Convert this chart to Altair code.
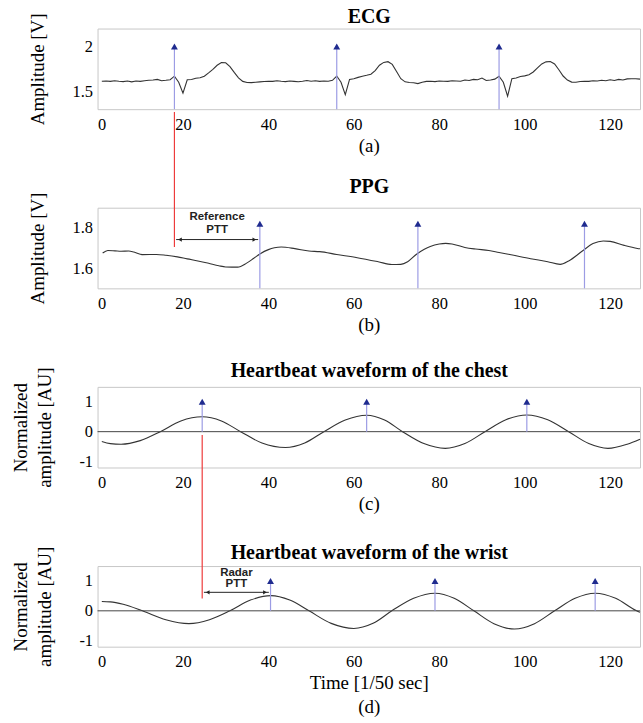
import altair as alt
import pandas as pd

# ---------------- data ----------------
ECG_T = list(range(1, 128))
ECG_V = [1.612, 1.615, 1.610, 1.618, 1.612, 1.608, 1.615, 1.605, 1.614, 1.610,
         1.618, 1.622, 1.625, 1.632, 1.618, 1.622, 1.628, 1.668, 1.600, 1.478,
         1.628, 1.632, 1.645, 1.650, 1.668, 1.705, 1.745, 1.790, 1.820, 1.818,
         1.775, 1.710, 1.650, 1.610, 1.598, 1.596, 1.600, 1.605, 1.608, 1.612,
         1.610, 1.618, 1.612, 1.608, 1.615, 1.610, 1.606, 1.612, 1.620, 1.612,
         1.618, 1.610, 1.614, 1.612, 1.622, 1.670, 1.600, 1.462, 1.632, 1.640,
         1.655, 1.668, 1.678, 1.690, 1.730, 1.790, 1.822, 1.830, 1.800, 1.720,
         1.640, 1.605, 1.598, 1.595, 1.585, 1.600, 1.610, 1.612, 1.608, 1.615,
         1.612, 1.610, 1.618, 1.615, 1.612, 1.625, 1.620, 1.632, 1.628, 1.648,
         1.620, 1.625, 1.635, 1.668, 1.600, 1.444, 1.640, 1.648, 1.665, 1.672,
         1.685, 1.715, 1.760, 1.805, 1.828, 1.832, 1.805, 1.740, 1.670, 1.625,
         1.602, 1.600, 1.608, 1.612, 1.610, 1.618, 1.615, 1.622, 1.618, 1.628,
         1.620, 1.632, 1.625, 1.638, 1.640, 1.640, 1.635]

PPG_T = [1.2, 2.4, 4.1, 5.5, 7.3, 8.5, 10.5, 13.8, 16, 18.7, 21, 23.5, 26, 28.4,
         30, 32.8, 34.9, 36.5, 38.1, 40, 41.4, 43, 46.2, 49.5, 52, 56, 60.8,
         65.7, 68.9, 71, 72.6, 74.6, 76.5, 77.9, 80, 81.5, 83, 86, 88.5, 91.6,
         94, 96.5, 101.4, 105.4, 108.3, 110.3, 113.5, 116, 118.4, 120, 123.3,
         126.4, 127]
PPG_V = [1.675, 1.688, 1.686, 1.684, 1.685, 1.680, 1.667, 1.668, 1.664, 1.656,
         1.646, 1.636, 1.624, 1.612, 1.606, 1.605, 1.625, 1.648, 1.672, 1.692,
         1.701, 1.705, 1.697, 1.685, 1.682, 1.668, 1.652, 1.632, 1.618, 1.619,
         1.632, 1.668, 1.694, 1.708, 1.720, 1.723, 1.720, 1.703, 1.695, 1.688,
         1.678, 1.668, 1.647, 1.632, 1.619, 1.636, 1.685, 1.722, 1.735, 1.733,
         1.713, 1.698, 1.696]

CHEST_T = [1, 3, 5.5, 10, 14.7, 19.5, 24.5, 29, 33.5, 38.5, 44, 48.5, 53, 58, 63,
           67.2, 71.4, 76.4, 81.4, 86, 90.7, 95.6, 100.5, 105.4, 110.3, 115,
           119.5, 124, 127]
CHEST_V = [-0.33, -0.40, -0.42, -0.30, 0.0, 0.36, 0.50, 0.36, 0.0, -0.38, -0.53,
           -0.38, 0.0, 0.39, 0.55, 0.39, 0.0, -0.40, -0.56, -0.40, 0.0, 0.40,
           0.56, 0.40, 0.0, -0.40, -0.56, -0.42, -0.25]

WRIST_T = [1, 3, 6, 10.5, 16, 21.4, 26.2, 31, 35.8, 40.6, 45, 49.5, 54.7, 60,
           64.5, 68.9, 74, 79, 83.5, 88.1, 92.8, 97.6, 102.3, 107, 111.8, 116.5,
           121.3, 126.2, 127]
WRIST_V = [0.31, 0.30, 0.22, 0.0, -0.30, -0.43, -0.30, 0.0, 0.36, 0.51, 0.36,
           0.0, -0.42, -0.59, -0.42, 0.0, 0.42, 0.59, 0.42, 0.0, -0.43, -0.61,
           -0.43, 0.0, 0.42, 0.59, 0.42, 0.0, -0.05]

ECG_PEAKS = [18, 56, 94]
PPG_PEAKS = [38, 75, 114]
CHEST_PEAKS = [24.5, 63, 100.5]
WRIST_PEAKS = [40.5, 79, 116.5]

XTICKS = [0, 20, 40, 60, 80, 100, 120]

# ---------------- style ----------------
SERIF = "Liberation Serif"
SANS = "Liberation Sans"
LINE = "#333333"
STEM = "#9c9ce4"
TRI = "#1f2b8f"
RED = "#ee3b3b"
W, H = 545, 81
XDOM = [0, 127]


def make_panel(t, v, peaks, stem_lo, stem_hi, ydom, yvals, yfmt, ytitle, title,
               toff, xtitle, interp, zero_line=False, extras=()):
    xaxis = alt.Axis(values=XTICKS, format="d", title=xtitle, labelPadding=7,
                     titlePadding=4, tickSize=0, titleLineHeight=24)
    topaxis = alt.Axis(orient="top", values=XTICKS, labels=False, ticks=False,
                       domain=False, title=title, titleFontSize=20,
                       titleFontWeight="bold", titlePadding=toff)
    yaxis = alt.Axis(values=yvals, title=ytitle, labelPadding=5, tickSize=0,
                     titlePadding=25, titleLineHeight=24, labelExpr=yfmt)
    xscale = alt.Scale(domain=XDOM, nice=False, zero=False)

    def X(axis=None):
        return alt.X("t:Q", scale=xscale, axis=axis)

    def Y(field="v:Q"):
        return alt.Y(field, scale=alt.Scale(domain=ydom, nice=False, zero=False),
                     axis=yaxis)

    layers = []
    ldf = pd.DataFrame({"t": t, "v": v})
    layers.append(alt.Chart(ldf).mark_line(color=LINE, strokeWidth=1.1,
                                           interpolate=interp)
                  .encode(x=X(xaxis), y=Y()))
    if zero_line:
        zdf = pd.DataFrame({"v": [0.0]})
        layers.append(alt.Chart(zdf).mark_rule(color="#444444", strokeWidth=1)
                      .encode(y=Y()))
    sdf = pd.DataFrame({"t": peaks, "v": [stem_lo] * len(peaks),
                        "v2": [stem_hi] * len(peaks)})
    layers.append(alt.Chart(sdf).mark_rule(color=STEM, strokeWidth=1.2)
                  .encode(x=X(), y=Y(), y2="v2:Q"))
    layers.append(alt.Chart(sdf).mark_point(shape="triangle-up", filled=True,
                                            size=48, color=TRI, opacity=1)
                  .encode(x=X(topaxis), y=Y("v2:Q")))
    for kind, args in extras:
        if kind == "red":
            x, lo, hi = args
            df = pd.DataFrame({"t": [x], "v": [lo], "v2": [hi]})
            layers.append(alt.Chart(df).mark_rule(color=RED, strokeWidth=1.2,
                                                  clip=False)
                          .encode(x=X(), y=Y(), y2="v2:Q"))
        elif kind == "arrow":
            x0, x1, y, h0, h1 = args
            df = pd.DataFrame({"t": [x0], "t2": [x1], "v": [y]})
            layers.append(alt.Chart(df).mark_rule(color="#222222", strokeWidth=1)
                          .encode(x=X(), x2="t2:Q", y=Y()))
            hdf = pd.DataFrame({"t": [h0, h1], "v": [y, y],
                                "s": ["triangle-left", "triangle-right"]})
            layers.append(alt.Chart(hdf).mark_point(filled=True, size=18,
                                                    color="#222222", opacity=1)
                          .encode(x=X(), y=Y(),
                                  shape=alt.Shape("s:N", scale=None)))
        elif kind == "text":
            x, ypos, texts = args
            df = pd.DataFrame({"t": [x] * len(texts), "v": ypos, "txt": texts})
            layers.append(alt.Chart(df).mark_text(font=SANS, fontWeight="bold",
                                                  fontSize=11.5, color="#222222")
                          .encode(x=X(), y=Y(), text="txt:N"))
    return alt.layer(*layers).resolve_axis(x="independent").properties(
        width=W, height=H)


pa = make_panel(ECG_T, ECG_V, ECG_PEAKS, 1.3, 2.0, [1.3, 2.2], [1.5, 2],
                "datum.value == 2 ? '2' : '1.5'", "Amplitude [V]", "ECG", 2,
                "(a)", "linear")

pb = make_panel(PPG_T, PPG_V, PPG_PEAKS, 1.5, 1.82, [1.5, 1.9], [1.6, 1.8],
                "format(datum.value, '.1f')", "Amplitude [V]", "PPG", 11,
                "(b)", "monotone",
                extras=[("red", (18, 1.705, 2.375)),
                        ("arrow", (18.4, 37.6, 1.742, 19.3, 36.7)),
                        ("text", (28, [1.855, 1.79], ["Reference", "PTT"]))])

pc = make_panel(CHEST_T, CHEST_V, CHEST_PEAKS, 0, 1.0, [-1.2, 1.5], [-1, 0, 1],
                "datum.value == -1 ? '-1' : datum.label",
                ["Normalized", "amplitude [AU]"],
                "Heartbeat waveform of the chest", 6, "(c)", "monotone",
                zero_line=True)

pdw = make_panel(WRIST_T, WRIST_V, WRIST_PEAKS, 0, 1.0, [-1.2, 1.5], [-1, 0, 1],
                 "datum.value == -1 ? '-1' : datum.label",
                 ["Normalized", "amplitude [AU]"],
                 "Heartbeat waveform of the wrist", 4,
                 ["Time [1/50 sec]", "(d)"], "monotone", zero_line=True,
                 extras=[("red", (24.5, 0.415, 5.89)),
                         ("arrow", (24.9, 40.1, 0.62, 25.8, 39.2)),
                         ("text", (32.5, [1.28, 0.91], ["Radar", "PTT"]))])

chart = alt.vconcat(pa, pb, pc, pdw, spacing=99, bounds="flush").properties(
    padding={"left": 10, "top": 4, "right": 0, "bottom": 0},
    background="white",
).configure_view(stroke="#c8c8c8", strokeWidth=1).configure_axis(
    domain=False, ticks=False, grid=False,
    labelFont=SERIF, labelFontSize=16.5, labelColor="black",
    titleFont=SERIF, titleFontSize=19, titleFontWeight="normal", titleColor="black",
)

chart.save("out.html", embed_options={"renderer": "svg", "actions": False})
